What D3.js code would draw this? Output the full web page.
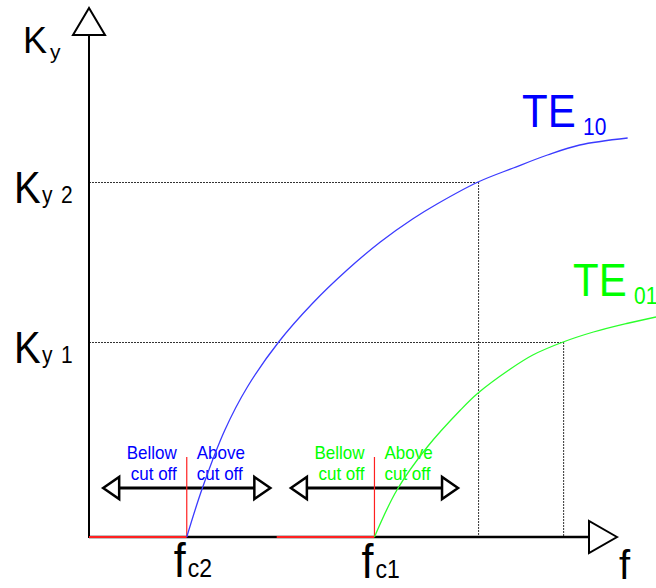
<!DOCTYPE html>
<html>
<head>
<meta charset="utf-8">
<script src="https://cdn.jsdelivr.net/npm/d3@7"></script>
<style>
  html, body { margin: 0; padding: 0; background: #fff; }
  svg { display: block; }
  text { font-family: "Liberation Sans", Arial, sans-serif; }
</style>
</head>
<body>
<script>
// Dispersion curves of the two lowest waveguide modes (Ky versus frequency)
const modeNames = ["TE10", "TE01"];
const modeColors = ["#0000ff", "#00ff00"];
const curveColors = ["#3b3bff", "#2cff2c"];
const cutoffNames = ["c2", "c1"];
const cutoffFreqs = [1.0, 2.92];          // fc2 (TE10), fc1 (TE01)

const te10Freq = [1.0, 1.16, 1.39, 1.62, 1.94, 2.29, 2.64, 2.98, 3.31, 3.56, 3.98, 4.34, 4.69, 5.02, 5.51];
const te10Ky   = [0.0, 0.98, 2.14, 3.0, 3.9, 4.68, 5.34, 5.9, 6.36, 6.66, 7.1, 7.38, 7.64, 7.84, 7.98];
const te01Freq = [2.92, 3.15, 3.46, 3.8, 3.98, 4.31, 4.54, 4.85, 5.16, 5.5, 5.8];
const te01Ky   = [0.0, 0.94, 1.8, 2.54, 2.88, 3.36, 3.64, 3.9, 4.1, 4.27, 4.4];

const kyLevelNames = ["2", "1"];
const kyLevels = [7.1, 3.9];              // Ky2, Ky1
const kyLevelFreqs = [3.98, 4.85];        // where each level meets its curve

const regionLabels = [["Bellow", "cut off"], ["Above", "cut off"]];

const W = 656, H = 588;
const svg = d3.select("body").append("svg").attr("width", W).attr("height", H);

const x = d3.scaleLinear().domain([0, 5.8]).range([89, 656]);
const y = d3.scaleLinear().domain([0, 10]).range([537, 37]);

const x0 = x(0), y0 = y(0);

// guide lines for Ky1 / Ky2
kyLevels.forEach((k, i) => {
  const g = svg.append("g").attr("fill", "none").attr("stroke", "#333")
    .attr("stroke-width", 1).attr("stroke-dasharray", "2,1");
  g.append("line").attr("x1", x0).attr("x2", x(kyLevelFreqs[i]))
    .attr("y1", y(k) + 0.5).attr("y2", y(k) + 0.5);
  g.append("line").attr("x1", x(kyLevelFreqs[i]) + 0.5).attr("x2", x(kyLevelFreqs[i]) + 0.5)
    .attr("y1", y(k)).attr("y2", y0);
});

// axes with open arrow heads
svg.append("line").attr("x1", x0).attr("x2", x0).attr("y1", y0 + 1).attr("y2", 35)
  .attr("stroke", "#000").attr("stroke-width", 2);
svg.append("path").attr("d", `M${x0},8 L${x0 - 16},35 L${x0 + 16},35 Z`)
  .attr("fill", "#fff").attr("stroke", "#000").attr("stroke-width", 2);
svg.append("line").attr("x1", x0).attr("x2", 588).attr("y1", y0).attr("y2", y0)
  .attr("stroke", "#000").attr("stroke-width", 2.5);
svg.append("path").attr("d", `M617,${y0} L589,${y0 - 16} L589,${y0 + 16} Z`)
  .attr("fill", "#fff").attr("stroke", "#000").attr("stroke-width", 2);

// below-cutoff bands along the frequency axis
const bandWidth = cutoffFreqs[0];
cutoffFreqs.forEach(fc => {
  svg.append("line").attr("x1", x(fc - bandWidth)).attr("x2", x(fc))
    .attr("y1", y0).attr("y2", y0).attr("stroke", "#ff2020").attr("stroke-width", 2);
});

// cutoff markers, double arrows and region labels
const arrowHalf = 0.855;
cutoffFreqs.forEach((fc, i) => {
  const cx = x(fc);
  const ay = 488;
  const xl = x(fc - arrowHalf), xr = x(fc + arrowHalf);
  svg.append("line").attr("x1", xl + 15).attr("x2", xr - 15).attr("y1", ay).attr("y2", ay)
    .attr("stroke", "#000").attr("stroke-width", 3);
  svg.append("path").attr("d", `M${xl},${ay} L${xl + 16},${ay - 11} L${xl + 16},${ay + 11} Z`)
    .attr("fill", "#fff").attr("stroke", "#000").attr("stroke-width", 2.5);
  svg.append("path").attr("d", `M${xr},${ay} L${xr - 16},${ay - 11} L${xr - 16},${ay + 11} Z`)
    .attr("fill", "#fff").attr("stroke", "#000").attr("stroke-width", 2.5);
  svg.append("line").attr("x1", cx).attr("x2", cx).attr("y1", 457).attr("y2", y0)
    .attr("stroke", "#ff2020").attr("stroke-width", 1.2);

  regionLabels.forEach((lines, j) => {
    lines.forEach((s, k) => {
      svg.append("text")
        .attr("transform", `translate(${j === 0 ? cx - 10 : cx + 10},${459 + k * 21}) scale(1,1.1)`)
        .attr("fill", modeColors[i]).attr("font-size", 17)
        .attr("text-anchor", j === 0 ? "end" : "start")
        .text(s);
    });
  });
});

// mode curves
const line = d3.line().x(d => x(d[0])).y(d => y(d[1])).curve(d3.curveCatmullRom.alpha(0.5));
[[te10Freq, te10Ky], [te01Freq, te01Ky]].forEach(([fs, ks], i) => {
  svg.append("path").datum(d3.zip(fs, ks)).attr("d", line)
    .attr("fill", "none").attr("stroke", curveColors[i]).attr("stroke-width", 1.3);
});

// text helper with slight vertical stretch
function label(tx, ty, str, size, opts = {}) {
  return svg.append("text")
    .attr("transform", `translate(${tx},${ty}) scale(1,${opts.sy || 1.1})`)
    .attr("font-size", size)
    .attr("fill", opts.fill || "#000")
    .attr("font-family", opts.family || null)
    .text(str);
}

// axis titles
label(23, 53, "K", 36, { sy: 1.0 });
label(50, 59, "y", 21, { sy: 1.0 });
label(619, 579, "f", 40, { sy: 1.0 });

// Ky level labels
kyLevels.forEach((k, i) => {
  const by = y(k) + 21;
  label(14, by, "K", 40);
  label(42, by, "y", 21);
  label(61, by, kyLevelNames[i], 21);
});

// cutoff frequency labels
const fcBase = [577, 578];
cutoffFreqs.forEach((fc, i) => {
  const cx = x(fc);
  label(cx - 13, fcBase[i], "f", 43);
  label(cx + 1, fcBase[i], cutoffNames[i], 23);
});

// mode labels
const modeLabelPos = [[522, 127], [573, 296]];
modeNames.forEach((name, i) => {
  const [lx, ly] = modeLabelPos[i];
  label(lx, ly, name.slice(0, 2), 42, { fill: modeColors[i] });
  label(lx + 61, ly + 8, name.slice(2), 21, { fill: modeColors[i], family: "DejaVu Sans Mono" });
});
</script>
</body>
</html>
